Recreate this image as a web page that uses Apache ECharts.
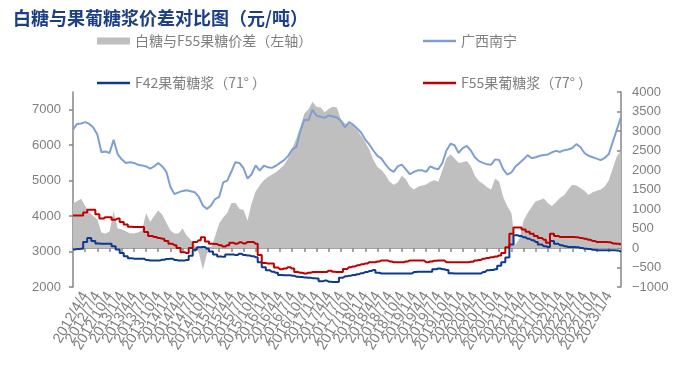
<!DOCTYPE html>
<html><head><meta charset="utf-8">
<script src="https://cdn.jsdelivr.net/npm/echarts@6/dist/echarts.min.js"></script>
<style>html,body{margin:0;padding:0;background:#fff}#c{width:700px;height:374px}</style>
</head><body><div id="c"></div>
<script>
const categories = [
'2012/1/4','2012/2/4','2012/3/4','2012/4/4','2012/5/4','2012/6/4','2012/7/4','2012/8/4','2012/9/4','2012/10/4','2012/11/4','2012/12/4',
'2013/1/4','2013/2/4','2013/3/4','2013/4/4','2013/5/4','2013/6/4','2013/7/4','2013/8/4','2013/9/4','2013/10/4','2013/11/4','2013/12/4',
'2014/1/4','2014/2/4','2014/3/4','2014/4/4','2014/5/4','2014/6/4','2014/7/4','2014/8/4','2014/9/4','2014/10/4','2014/11/4','2014/12/4',
'2015/1/4','2015/2/4','2015/3/4','2015/4/4','2015/5/4','2015/6/4','2015/7/4','2015/8/4','2015/9/4','2015/10/4','2015/11/4','2015/12/4',
'2016/1/4','2016/2/4','2016/3/4','2016/4/4','2016/5/4','2016/6/4','2016/7/4','2016/8/4','2016/9/4','2016/10/4','2016/11/4','2016/12/4',
'2017/1/4','2017/2/4','2017/3/4','2017/4/4','2017/5/4','2017/6/4','2017/7/4','2017/8/4','2017/9/4','2017/10/4','2017/11/4','2017/12/4',
'2018/1/4','2018/2/4','2018/3/4','2018/4/4','2018/5/4','2018/6/4','2018/7/4','2018/8/4','2018/9/4','2018/10/4','2018/11/4','2018/12/4',
'2019/1/4','2019/2/4','2019/3/4','2019/4/4','2019/5/4','2019/6/4','2019/7/4','2019/8/4','2019/9/4','2019/10/4','2019/11/4','2019/12/4',
'2020/1/4','2020/2/4','2020/3/4','2020/4/4','2020/5/4','2020/6/4','2020/7/4','2020/8/4','2020/9/4','2020/10/4','2020/11/4','2020/12/4',
'2021/1/4','2021/2/4','2021/3/4','2021/4/4','2021/5/4','2021/6/4','2021/7/4','2021/8/4','2021/9/4','2021/10/4','2021/11/4','2021/12/4',
'2022/1/4','2022/2/4','2022/3/4','2022/4/4','2022/5/4','2022/6/4','2022/7/4','2022/8/4','2022/9/4','2022/10/4','2022/11/4','2022/12/4',
'2023/1/4','2023/2/4','2023/3/4','2023/4/4'
];
// 白糖与F55果糖价差 (right scale)
const spread = [
1140,1200,1260,1080,920,820,740,400,370,420,950,500,
480,430,380,370,400,450,900,670,820,960,850,650,
450,370,370,500,320,210,80,-130,-550,-150,0,300,
630,780,900,1150,1160,1000,980,700,1150,1450,1600,1740,
1820,1880,1940,2030,2130,2300,2550,2800,3100,3450,3560,3750,
3620,3600,3480,3570,3620,3600,3300,3190,3180,3150,3020,2880,
2720,2520,2260,2080,2000,1870,1700,1620,1680,1850,1760,1580,
1500,1570,1600,1630,1700,1740,1700,2000,2300,2400,2300,2180,
2200,2230,2100,1850,1720,1650,1560,1500,1780,1700,1300,1070,
900,80,250,700,900,1050,1200,1230,1270,1150,1080,1180,
1290,1350,1500,1620,1600,1540,1470,1360,1430,1470,1500,1580,
1740,2050,2350,2500
];
// 广西南宁
const nanning = [
6440,6600,6610,6650,6600,6500,6300,5800,5820,5780,6150,5750,
5600,5500,5520,5500,5450,5430,5400,5340,5400,5500,5400,5250,
4820,4620,4670,4710,4730,4700,4670,4540,4300,4200,4300,4480,
4540,4950,5000,5250,5520,5500,5350,5060,5180,5430,5280,5420,
5380,5360,5420,5500,5580,5700,5880,5950,6400,6720,6700,7000,
6830,6800,6770,6840,6810,6780,6690,6500,6650,6580,6470,6350,
6160,6020,5850,5700,5620,5460,5320,5250,5400,5450,5320,5180,
5250,5290,5290,5250,5400,5350,5320,5500,5850,6040,6000,5780,
5920,5980,5850,5660,5550,5500,5460,5450,5600,5580,5320,5170,
5230,5400,5500,5600,5720,5630,5660,5700,5720,5740,5800,5840,
5810,5860,5880,5920,6030,5950,5780,5700,5660,5620,5580,5640,
5750,6100,6450,6800
];
// F42果葡糖浆（71°）
const f42 = [
3060,3070,3080,3270,3380,3300,3230,3220,3220,3220,3150,3060,
2960,2870,2810,2800,2800,2800,2760,2750,2750,2750,2770,2790,
2800,2760,2750,2750,2760,2880,3050,3120,3130,3080,3000,2920,
2860,2850,2920,2920,2900,2940,2900,2890,2870,2840,2700,2560,
2470,2430,2400,2340,2330,2330,2320,2290,2280,2270,2260,2250,
2240,2160,2180,2150,2140,2140,2260,2300,2320,2340,2360,2390,
2420,2450,2480,2400,2380,2380,2380,2380,2380,2380,2380,2380,
2420,2430,2430,2430,2430,2500,2520,2500,2480,2390,2380,2380,
2380,2380,2380,2380,2380,2420,2470,2480,2500,2600,2700,2830,
3200,3460,3440,3400,3360,3320,3270,3200,3150,3130,3300,3220,
3180,3150,3130,3130,3120,3100,3080,3070,3050,3040,3040,3040,
3040,3040,3030,2990
];
// F55果葡糖浆（77°）
const f55 = [
4020,4020,4020,4100,4180,4180,4050,3930,3970,3970,3900,3930,
3830,3760,3700,3690,3690,3690,3550,3440,3410,3380,3360,3300,
3220,3180,3100,2980,2960,3100,3270,3320,3400,3280,3220,3210,
3180,3140,3180,3250,3220,3260,3230,3270,3270,3220,2900,2680,
2660,2660,2550,2500,2520,2560,2520,2420,2400,2380,2400,2420,
2420,2420,2420,2460,2430,2420,2420,2510,2560,2580,2610,2640,
2660,2700,2700,2720,2750,2750,2720,2700,2700,2700,2720,2750,
2750,2750,2750,2700,2720,2740,2750,2750,2700,2700,2700,2700,
2700,2700,2710,2750,2760,2800,2820,2840,2860,2890,2960,3120,
3500,3680,3680,3620,3560,3500,3440,3380,3330,3250,3500,3440,
3410,3410,3410,3410,3400,3380,3360,3330,3300,3270,3270,3270,
3260,3230,3220,3200
];
const leftTicks = [2000,3000,4000,5000,6000,7000];
const rightTicks = [-1000,-500,0,500,1000,1500,2000,2500,3000,3500,4000];
const names = ['白糖与F55果糖价差（左轴）','广西南宁','F42果葡糖浆（71° ）','F55果葡糖浆（77° ）'];

const grey = '#7f7f7f';
const font = "'Liberation Sans', Arial, sans-serif";
const cjk = "'Noto Sans CJK SC', sans-serif";
const legText = {color: grey, fontSize: 14, fontFamily: cjk};

const chart = echarts.init(document.getElementById('c'), null, {renderer: 'canvas'});
chart.setOption({
  backgroundColor: '#fff',
  animation: false,
  title: {
    text: '白糖与果葡糖浆价差对比图（元/吨）',
    left: 13, top: 9, padding: 0,
    textStyle: {color: '#1d3f86', fontSize: 18, fontWeight: 'bold', fontFamily: cjk}
  },
  legend: [
    {data: [names[0]], left: 97, top: 34, padding: 0, icon: 'rect', itemWidth: 33, itemHeight: 7, textStyle: legText},
    {data: [names[1]], left: 423, top: 34, padding: 0, icon: 'rect', itemWidth: 33, itemHeight: 2.5, textStyle: legText},
    {data: [names[2]], left: 97, top: 76, padding: 0, icon: 'rect', itemWidth: 33, itemHeight: 2.5, textStyle: legText},
    {data: [names[3]], left: 423, top: 76, padding: 0, icon: 'rect', itemWidth: 33, itemHeight: 2.5, textStyle: legText}
  ],
  grid: {left: 73, right: 79, top: 92, bottom: 87, containLabel: false},
  xAxis: {
    type: 'category', data: categories, boundaryGap: false,
    axisLine: {lineStyle: {color: '#868686', width: 1.5}},
    axisTick: {interval: 2, length: 4, lineStyle: {color: '#868686', width: 1.5}},
    axisLabel: {interval: 2, rotate: 60, color: grey, fontSize: 14.5, fontFamily: font, margin: 6},
    splitLine: {show: false}
  },
  yAxis: [
    {
      type: 'value', min: 2000, max: 7500, interval: 1000, position: 'left',
      axisLine: {show: true, lineStyle: {color: '#868686', width: 1.5}},
      axisTick: {show: true, length: 4, customValues: leftTicks, lineStyle: {color: '#868686', width: 1.5}},
      axisLabel: {customValues: leftTicks, color: grey, fontSize: 13, fontFamily: font, margin: 12,
        formatter: v => String(v)},
      splitLine: {show: false}
    },
    {
      type: 'value', min: -1000, max: 4000, interval: 500, position: 'right',
      axisLine: {show: true, lineStyle: {color: '#868686', width: 1.5}},
      axisTick: {show: true, inside: true, length: 4, customValues: rightTicks, lineStyle: {color: '#868686', width: 1.5}},
      axisLabel: {customValues: rightTicks, color: grey, fontSize: 13, fontFamily: font, margin: 11,
        formatter: v => String(v).replace('-', '\u2212')},
      splitLine: {show: false}
    }
  ],
  series: [
    {name: names[0], type: 'line', yAxisIndex: 1, data: spread, symbol: 'none',
      lineStyle: {width: 0}, itemStyle: {color: '#bfbfbf'}, areaStyle: {color: '#bfbfbf', opacity: 1}, z: 1},
    {name: names[1], type: 'line', yAxisIndex: 0, data: nanning, symbol: 'none',
      lineStyle: {width: 2, color: '#7f9fd0'}, itemStyle: {color: '#7f9fd0'}, z: 2},
    {name: names[2], type: 'line', yAxisIndex: 0, data: f42, symbol: 'none', step: 'middle',
      lineStyle: {width: 2, color: '#0c3a8c'}, itemStyle: {color: '#0c3a8c'}, z: 3},
    {name: names[3], type: 'line', yAxisIndex: 0, data: f55, symbol: 'none', step: 'middle',
      lineStyle: {width: 2, color: '#c00000'}, itemStyle: {color: '#c00000'}, z: 4}
  ]
});
</script>
</body></html>
